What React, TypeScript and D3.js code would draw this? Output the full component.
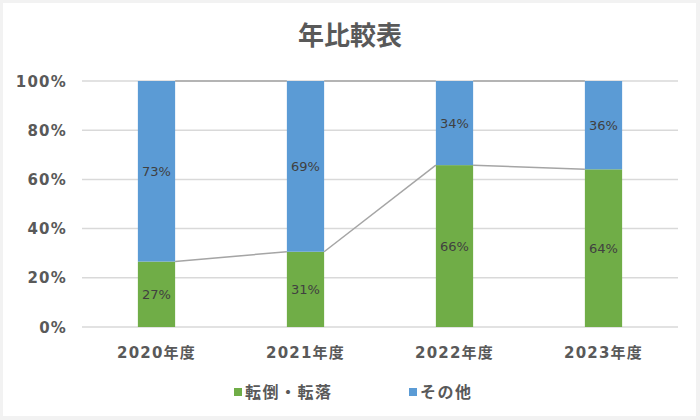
import React from "react";
import * as d3 from "d3";

const categories = ["2020年度", "2021年度", "2022年度", "2023年度"];
const fallValues = [26.6, 30.6, 65.8, 64.1];
const otherValues = [73.4, 69.4, 34.2, 35.9];
const seriesNames = ["転倒・転落", "その他"];
const seriesColors = ["#70ad47", "#5b9bd5"];
const yTicks = [0, 20, 40, 60, 80, 100];
const title = "年比較表";

const W = 700, H = 420;
const FONT = "'DejaVu Sans', 'Noto Sans CJK JP', sans-serif";
const CJK = "'Noto Sans CJK JP', 'DejaVu Sans', sans-serif";

export default function App() {
  const x = d3.scaleBand<string>().domain(categories).range([82, 678]).paddingInner(0.75).paddingOuter(0.375);
  const y = d3.scaleLinear().domain([0, 100]).range([327, 81]);
  const bw = x.bandwidth();

  const stackData = categories.map((c, i) => ({ cat: c, fall: fallValues[i], other: otherValues[i] }));
  const stack = d3.stack<any>().keys(["fall", "other"])(stackData);

  const seriesLines: { x1: number; y1: number; x2: number; y2: number }[] = [];
  stack.forEach((layer) => {
    for (let i = 0; i < categories.length - 1; i++) {
      seriesLines.push({
        x1: (x(categories[i]) as number) + bw,
        y1: y(layer[i][1]),
        x2: x(categories[i + 1]) as number,
        y2: y(layer[i + 1][1]),
      });
    }
  });

  return (
    <svg width={W} height={H} style={{ position: "absolute", left: 0, top: 0 }} fontFamily={FONT}>
      <rect x={0} y={0} width={W} height={H} fill="#f2f2f2" />
      <rect x={3} y={3} width={693} height={413} fill="#ffffff" />
      <text x={350} y={45} textAnchor="middle" fontSize={26} fontWeight="bold" fill="#595959" fontFamily={CJK}>{title}</text>
      {yTicks.map((t) => (
        <g key={t}>
          <line x1={82} x2={678} y1={y(t)} y2={y(t)} stroke="#d9d9d9" strokeWidth={1.5} />
          <text x={67} y={y(t) + 5.5} textAnchor="end" fontSize={15} fontWeight="bold" letterSpacing={1.2} fill="#595959">{t}%</text>
        </g>
      ))}
      {seriesLines.map((l, i) => (
        <line key={i} x1={l.x1} y1={l.y1} x2={l.x2} y2={l.y2} stroke="#a5a5a5" strokeWidth={1.5} />
      ))}
      {stack.map((layer, li) => (
        <g key={li}>
          {layer.map((d, i) => (
            <g key={i}>
              <rect x={x(categories[i])} y={y(d[1])} width={bw} height={y(d[0]) - y(d[1])} fill={seriesColors[li]} />
              <text x={(x(categories[i]) as number) + bw / 2} y={(y(d[0]) + y(d[1])) / 2 + 5} textAnchor="middle" fontSize={13} fill="#404040">
                {Math.round(d[1] - d[0])}%
              </text>
            </g>
          ))}
        </g>
      ))}
      {categories.map((c) => (
        <text key={c} x={(x(c) as number) + bw / 2} y={358} textAnchor="middle" fontSize={15} fontWeight="bold" letterSpacing={1.2} fill="#595959">{c}</text>
      ))}
      {[{ x: 234 }, { x: 409 }].map((p, i) => (
        <g key={i}>
          <rect x={p.x} y={388} width={8} height={8} fill={seriesColors[i]} />
          <text x={p.x + 11} y={398} fontSize={16} fontWeight="bold" letterSpacing={1.5} fill="#595959" fontFamily={CJK}>{seriesNames[i]}</text>
        </g>
      ))}
    </svg>
  );
}
